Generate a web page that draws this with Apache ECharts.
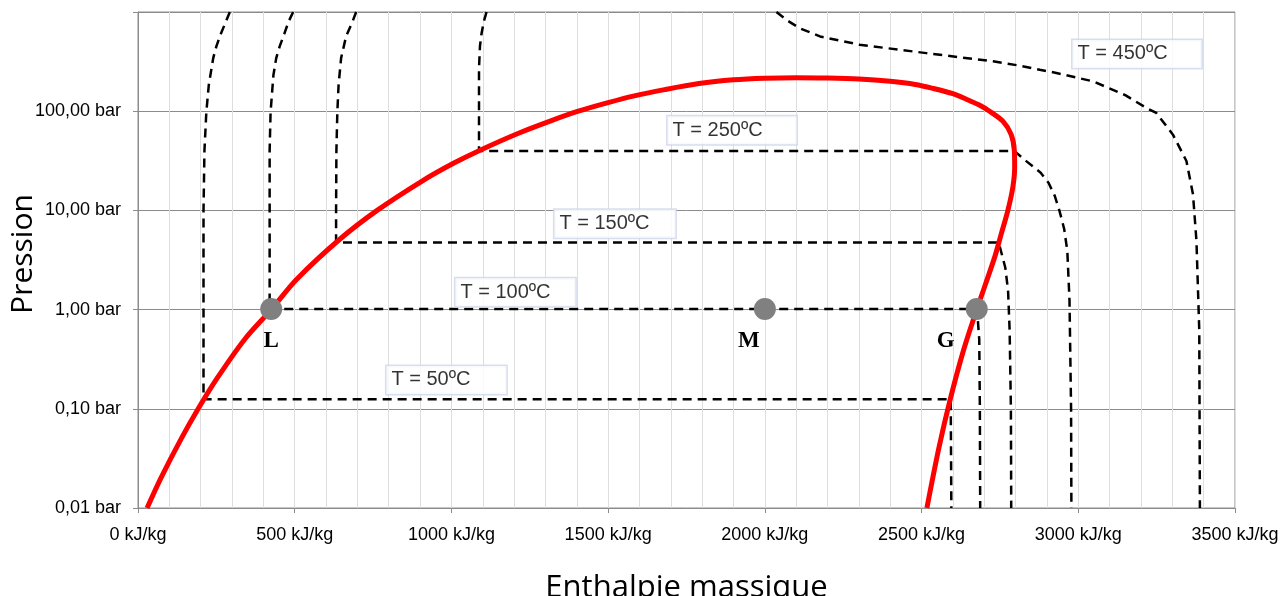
<!DOCTYPE html>
<html><head><meta charset="utf-8">
<script src="https://cdn.jsdelivr.net/npm/echarts@6/dist/echarts.min.js"></script>
<style>html,body{margin:0;padding:0;background:#fff}#c{width:1280px;height:596px}</style>
</head><body><div id="c"></div><script>
// ---- data (enthalpy kJ/kg, pressure bar) ----
const xTickValues = [0, 500, 1000, 1500, 2000, 2500, 3000, 3500];
const xTickLabels = ['0 kJ/kg','500 kJ/kg','1000 kJ/kg','1500 kJ/kg','2000 kJ/kg','2500 kJ/kg','3000 kJ/kg','3500 kJ/kg'];
const yTickValues = [0.01, 0.1, 1, 10, 100];
const yTickLabels = ['0,01 bar','0,10 bar','1,00 bar','10,00 bar','100,00 bar'];

// saturation dome (red)
const saturation = [
  [29,0.01],[73,0.02],[138,0.05],[192,0.1],[251,0.2],[340,0.5],[425,1],[505,2],[640,5],[763,10],
  [909,20],[1008,30],[1088,40],[1214,60],[1317,80],[1405,100],[1500,122],[1580,142],[1680,165],
  [1790,190],[1900,207],[2000,215],[2100,218],[2200,216],[2300,211],[2400,200],[2480,186],[2536,170],
  [2600,150],[2643,132],[2690,113],[2717,100],[2760,79],[2786,58],[2796,40],[2797,27],[2791,17],
  [2775,9.9],[2754,5.77],[2733,3.36],[2676,1],[2635,0.4],[2591,0.123],[2555,0.04],[2517,0.01]
];

// isotherms (dashed)
const iso50 = [[293,1000],[280,794],[263,590],[250,450],[240,343],[226,185],[218,98],[212,40],[209,10],[209,0.1245],[2593,0.1245],[2595,0.01]];
const iso100 = [[495,1000],[480,794],[467,605],[452,450],[441,343],[432,230],[423,98],[420,40],[420,10],[420,1.014],[2677,1.014],[2684,0.5],[2686,0.1],[2687,0.01]];
const iso150 = [[696,1000],[684,794],[664,570],[648,343],[640,185],[636,98],[633,40],[632,10],[632,4.76],[2746,4.76],[2767,2.66],[2776,1.55],[2781,0.615],[2785,0.1],[2786,0.01]];
const iso250 = [[1112,1000],[1103,794],[1096,605],[1091,450],[1088,272],[1088,98],[1088,39.6],[2796,39.6],[2834,31.4],[2880,24],[2905,19],[2925,14],[2940,9.9],[2955,6.5],[2965,3.9],[2972,1.23],[2977,0.1],[2978,0.01]];
const iso450 = [[2037,1000],[2071,822],[2111,687],[2176,567],[2302,468],[2515,385],[2728,318],[2813,288],[2877,262],[2930,243],[3047,200],[3150,145],[3217,108],[3249,96],[3302,58],[3345,31.5],[3366,14.5],[3377,4.94],[3386,0.615],[3388,0.01]];

// state points
const pointNames = ['L', 'M', 'G'];
const pointH = [425, 2000, 2676];
const pointP = [1.014, 1.014, 1.014];

// isotherm labels (anchor = left edge of box, vertical centre)
const isoLabelText = ['T = 450ºC', 'T = 250ºC', 'T = 150ºC', 'T = 100ºC', 'T = 50ºC'];
const isoLabelH = [2980, 1688, 1327, 1011, 791];
const isoLabelP = [378, 64.4, 7.32, 1.5, 0.1956];

// ---- styles ----
const boxWidths = [129, 129, 121, 120, 120];
const pointLabelOffsets = [[0, 0], [-16, 0], [-31, 0]];

const chart = echarts.init(document.getElementById('c'), null, {renderer: 'canvas'});
const dash = {color: '#000', width: 2.5, type: [9, 6]};
function isoSeries(name, data) {
  return {name: name, type: 'line', data: data, showSymbol: false, symbol: 'none', smooth: false,
    lineStyle: dash, z: 3, silent: true};
}
const option = {
  animation: false,
  backgroundColor: '#fff',
  grid: {left: 138, right: 45, top: 12, bottom: 88, containLabel: false, outerBoundsMode: 'none',
    show: true, borderColor: '#8c8c8c', borderWidth: 1, backgroundColor: 'transparent'},
  xAxis: {
    type: 'value', min: 0, max: 3500, interval: 500,
    axisLine: {show: true, lineStyle: {color: '#8c8c8c', width: 1}},
    axisTick: {show: true, length: 5, inside: false, lineStyle: {color: '#8c8c8c'}},
    axisLabel: {color: '#000', fontFamily: 'Liberation Sans', fontSize: 18, margin: 18,
      formatter: function (v) { const i = xTickValues.indexOf(Math.round(v)); return i < 0 ? '' : xTickLabels[i]; }},
    splitLine: {show: true, lineStyle: {color: '#dedede', width: 1}},
    minorTick: {show: false, splitNumber: 5},
    minorSplitLine: {show: true, lineStyle: {color: '#dedede', width: 1}},
    name: 'Enthalpie massique', nameLocation: 'middle', nameGap: 65, nameMoveOverlap: false,
    nameTextStyle: {fontFamily: 'Open Sans', fontSize: 31, color: '#000'}
  },
  yAxis: {
    type: 'log', logBase: 10, min: 0.01, max: 1000,
    axisLine: {show: true, lineStyle: {color: '#8c8c8c', width: 1}},
    axisTick: {show: true, length: 5, inside: false, lineStyle: {color: '#8c8c8c'}},
    axisLabel: {color: '#000', fontFamily: 'Liberation Sans', fontSize: 18, margin: 17,
      formatter: function (v) {
        const i = yTickValues.findIndex(t => Math.abs(Math.log10(t) - Math.log10(v)) < 0.01);
        return i < 0 ? '' : yTickLabels[i];
      }},
    splitLine: {show: true, lineStyle: {color: '#8c8c8c', width: 1}},
    name: 'Pression', nameLocation: 'middle', nameGap: 100, nameRotate: 90, nameMoveOverlap: false,
    nameTextStyle: {fontFamily: 'Open Sans', fontSize: 30, color: '#000', padding: [0, 0, 0, 12]}
  },
  series: [
    isoSeries('T50', iso50),
    isoSeries('T100', iso100),
    isoSeries('T150', iso150),
    isoSeries('T250', iso250),
    isoSeries('T450', iso450),
    {name: 'saturation', type: 'line', data: saturation, showSymbol: false, symbol: 'none', smooth: 0.3,
      lineStyle: {color: '#ff0000', width: 5}, z: 4, silent: true},
    {name: 'points', type: 'scatter', z: 6, symbolSize: 22, itemStyle: {color: '#808080', opacity: 1},
      data: pointNames.map((n, i) => ({value: [pointH[i], pointP[i]], name: n,
        label: {show: true, position: 'bottom', distance: 10, offset: pointLabelOffsets[i], formatter: n,
          fontFamily: 'Liberation Serif', fontWeight: 'bold', fontSize: 23, color: '#000'}}))},
    {name: 'isoLabels', type: 'scatter', z: 7, symbolSize: 1, itemStyle: {color: 'rgba(0,0,0,0)'},
      data: isoLabelText.map((t, i) => ({value: [isoLabelH[i], isoLabelP[i]],
        label: {show: true, position: 'right', distance: 0, formatter: t,
          fontFamily: 'Liberation Sans', fontSize: 20, color: '#000', lineHeight: 22,
          backgroundColor: '#fff', borderColor: '#cdd6e8', borderWidth: 1.5,
          padding: [3, 5, 3, 5], width: boxWidths[i] - 10, align: 'left'}}))}
  ]
};
chart.setOption(option);
</script></body></html>
